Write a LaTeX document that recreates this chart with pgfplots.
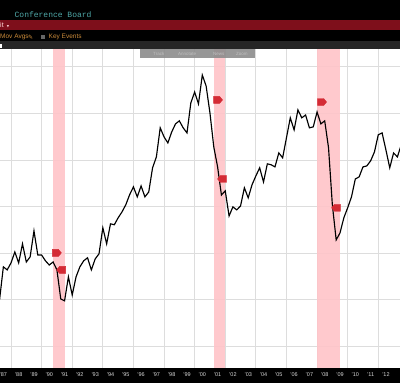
\documentclass[border=0pt]{standalone}
\usepackage{fontspec}
\setmainfont{Liberation Sans}
\newfontfamily\monof{Liberation Mono}
\newfontfamily\symf{DejaVu Sans}
\usepackage{pgfplots}
\pgfplotsset{compat=1.18}
\usepackage{pgfplotstable}
\definecolor{gridc}{HTML}{DDDDDD}
\definecolor{bandc}{HTML}{FFC4C8}
\definecolor{markc}{HTML}{D42B35}
\definecolor{hdrred}{HTML}{7E0F1B}
\definecolor{teal2}{HTML}{4FA8A8}
\definecolor{orng}{HTML}{C98A3A}
\pgfdeclareplotmark{evR}{\fill (-4.5pt,-3.5pt) -- (1.5pt,-3.5pt) -- (4.5pt,0pt) -- (1.5pt,3.5pt) -- (-4.5pt,3.5pt) -- cycle;}
\pgfdeclareplotmark{evL}{\fill (4.5pt,-3.5pt) -- (-1.5pt,-3.5pt) -- (-4.5pt,0pt) -- (-1.5pt,3.5pt) -- (4.5pt,3.5pt) -- cycle;}
\pgfplotstableread{
year value
1987.25 39.8
1987.50 54.0
1987.75 52.7
1988.00 55.7
1988.25 60.4
1988.50 55.7
1988.75 63.9
1989.00 56.1
1989.25 58.3
1989.50 69.5
1989.75 59.1
1990.00 59.1
1990.25 56.6
1990.50 54.8
1990.75 56.1
1991.00 52.7
1991.25 40.2
1991.50 39.4
1991.75 49.7
1992.00 41.9
1992.25 49.7
1992.50 54.0
1992.75 56.6
1993.00 57.9
1993.25 52.7
1993.50 57.4
1993.75 59.6
1994.00 70.8
1994.25 63.9
1994.50 72.5
1994.75 72.1
1995.00 75.1
1995.25 77.6
1995.50 80.7
1995.75 85.0
1996.00 88.4
1996.25 84.1
1996.50 88.8
1996.75 84.1
1997.00 86.2
1997.25 96.6
1997.50 101.3
1997.75 113.8
1998.00 109.9
1998.25 107.3
1998.50 112.0
1998.75 115.5
1999.00 116.8
1999.25 113.8
1999.50 111.6
1999.75 124.5
2000.00 129.2
2000.25 124.1
2000.50 136.5
2000.75 131.8
2001.00 120.2
2001.25 105.6
2001.50 97.0
2001.75 84.9
2002.00 86.7
2002.25 75.9
2002.50 79.8
2002.75 78.5
2003.00 80.2
2003.25 88.0
2003.50 83.7
2003.75 89.3
2004.00 93.1
2004.25 96.6
2004.50 90.5
2004.75 98.3
2005.00 97.9
2005.25 97.0
2005.50 103.0
2005.75 100.9
2006.00 109.5
2006.25 118.1
2006.50 112.9
2006.75 121.5
2007.00 118.1
2007.25 119.3
2007.50 113.8
2007.75 114.2
2008.00 120.6
2008.25 115.5
2008.50 116.8
2008.75 105.2
2009.00 80.6
2009.25 65.6
2009.50 68.6
2009.75 75.1
2010.00 79.4
2010.25 84.1
2010.50 91.8
2010.75 92.7
2011.00 97.0
2011.25 97.4
2011.50 99.6
2011.75 103.4
2012.00 110.8
2012.25 111.6
2012.50 104.3
2012.75 96.6
2013.00 103.0
2013.25 101.3
2013.50 106.5
}\conf
\begin{document}
\begin{tikzpicture}[x=1pt,y=1pt]
\path[use as bounding box] (0,0) rectangle (400,383);
\begin{scope}
\clip (0,0) rectangle (400,383);
\fill[black] (0,0) rectangle (400,383);
\fill[hdrred] (0,353) rectangle (400,363);
\fill[black!85!white] (0,334) rectangle (400,342);
\fill[white] (0,335) rectangle (2,339);
\node[anchor=west,inner sep=0,text=teal2,font=\monof\fontsize{8}{8}\selectfont] at (14.5,368) {Conference Board};
\node[anchor=west,inner sep=0,text=white!85!red,font=\fontsize{7}{7}\selectfont] at (0,358) {it \,\raisebox{0.5pt}{\symf\fontsize{3}{3}\selectfont ▼}};
\node[anchor=west,inner sep=0,text=orng,font=\fontsize{6.5}{6.5}\selectfont] at (0,346) {Mov Avgs};
\node[anchor=west,inner sep=0,text=orng,font=\symf\fontsize{6}{6}\selectfont] at (28,346) {✎};
\fill[black!60!white] (41,344) rectangle (45,348);
\node[anchor=west,inner sep=0,text=orng,font=\fontsize{6.5}{6.5}\selectfont] at (48.5,346) {Key Events};
\begin{axis}[
  at={(0pt,15pt)}, anchor=south west,
  width=400pt, height=319pt, scale only axis,
  xmin=1987.28, xmax=2013.42, ymin=10.5, ymax=147.7,
  axis line style={draw=none},
  axis background/.style={fill=white},
  xtick={1987.5,1988.5,1989.5,1990.5,1991.5,1992.5,1993.5,1994.5,1995.5,1996.5,1997.5,1998.5,1999.5,2000.5,2001.5,2002.5,2003.5,2004.5,2005.5,2006.5,2007.5,2008.5,2009.5,2010.5,2011.5,2012.5,2013.5},
  xticklabels={'87,'88,'89,'90,'91,'92,'93,'94,'95,'96,'97,'98,'99,'00,'01,'02,'03,'04,'05,'06,'07,'08,'09,'10,'11,'12,'13},
  extra x ticks={1988,1990,1992,1994,1996,1998,2000,2002,2004,2006,2008,2010,2012},
  extra x tick labels={},
  extra x tick style={xmajorgrids=true, major tick length=0pt},
  major grid style={draw=gridc,line width=0.8pt},
  major tick length=0pt,
  xticklabel style={text=white!85!black,font=\fontsize{5.5}{5.5}\selectfont,yshift=-1.5pt},
  clip mode=individual,
  ytick={20,40,60,80,100,120,140},
  yticklabels={},
  ymajorgrids=true,
  axis on top=false,
]
\addplot[fill=bandc,draw=none,opacity=0.9] coordinates {(1990.75,10.5)(1991.5,10.5)(1991.5,147.7)(1990.75,147.7)} -- cycle;
\addplot[fill=bandc,draw=none,opacity=0.9] coordinates {(2001.25,10.5)(2002,10.5)(2002,147.7)(2001.25,147.7)} -- cycle;
\addplot[fill=bandc,draw=none,opacity=0.9] coordinates {(2008,10.5)(2009.5,10.5)(2009.5,147.7)(2008,147.7)} -- cycle;
\addplot[black,line width=1.15pt,line join=miter,no marks] table[x=year,y=value] {\conf};
\addplot[only marks,mark=evR,mark options={fill=markc,draw=none},color=markc] coordinates {(1991.0,60)(2001.53,125.8)(2008.33,124.9)};
\addplot[only marks,mark=evL,mark options={fill=markc,draw=none},color=markc] coordinates {(1991.27,52.7)(2001.79,91.8)(2009.24,79.4)};
\end{axis}
\fill[black!45!white,opacity=0.9] (140,324.5) rectangle (255,334);
\node[anchor=west,inner sep=0,text=white!75!black,font=\fontsize{4.5}{4.5}\selectfont] at (153,329) {Track};
\node[anchor=west,inner sep=0,text=white!75!black,font=\fontsize{4.5}{4.5}\selectfont] at (178,329) {Annotate};
\node[anchor=west,inner sep=0,text=white!75!black,font=\fontsize{4.5}{4.5}\selectfont] at (213,329) {News};
\node[anchor=west,inner sep=0,text=white!75!black,font=\fontsize{4.5}{4.5}\selectfont] at (236,329) {Zoom};
\end{scope}
\end{tikzpicture}
\end{document}
